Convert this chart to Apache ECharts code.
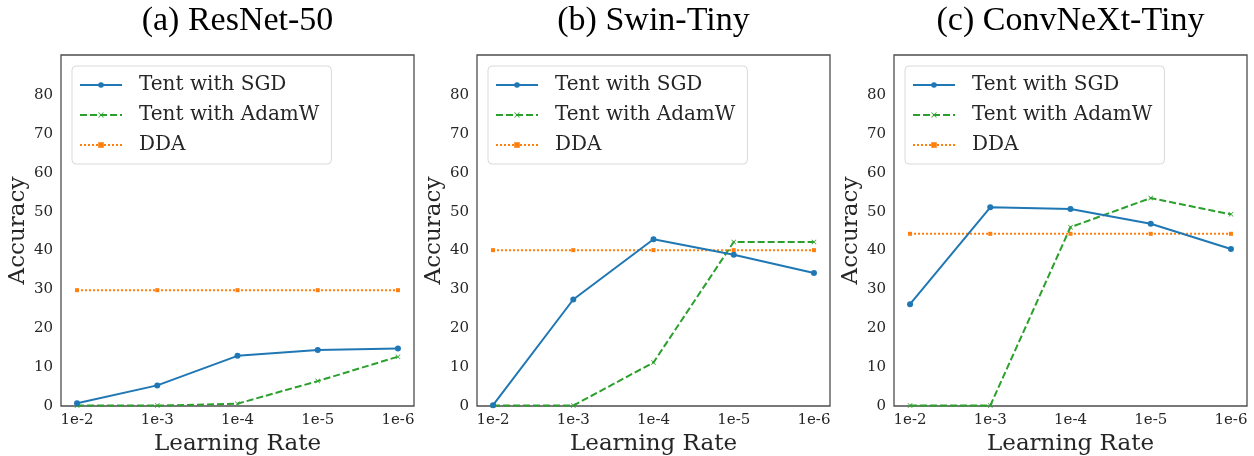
<!DOCTYPE html>
<html><head><meta charset="utf-8">
<script src="https://cdn.jsdelivr.net/npm/echarts@6/dist/echarts.min.js"></script>
<style>html,body{margin:0;padding:0;background:#fff}#c{width:1254px;height:456px}</style>
</head><body><div id="c"></div>
<script>
const titles = ['(a) ResNet-50', '(b) Swin-Tiny', '(c) ConvNeXt-Tiny'];
const tickLabels = ['1e-2', '1e-3', '1e-4', '1e-5', '1e-6'];
const yTicks = [0, 10, 20, 30, 40, 50, 60, 70, 80];
const seriesNames = ['Tent with SGD', 'Tent with AdamW', 'DDA'];
// ResNet-50
const resnetSGD = [0.7, 5.3, 12.9, 14.4, 14.8];
const resnetAdamW = [0.1, 0.1, 0.6, 6.4, 12.7];
const resnetDDA = [29.8, 29.8, 29.8, 29.8, 29.8];
// Swin-Tiny
const swinSGD = [0.2, 27.4, 42.9, 38.9, 34.2];
const swinAdamW = [0.1, 0.1, 11.2, 42.2, 42.2];
const swinDDA = [40.1, 40.1, 40.1, 40.1, 40.1];
// ConvNeXt-Tiny
const convSGD = [26.2, 51.1, 50.7, 46.9, 40.4];
const convAdamW = [0.1, 0.1, 46.0, 53.5, 49.3];
const convDDA = [44.3, 44.3, 44.3, 44.3, 44.3];

const panels = [
  [resnetSGD, resnetAdamW, resnetDDA],
  [swinSGD, swinAdamW, swinDDA],
  [convSGD, convAdamW, convDDA]
];

const gridLefts = [61, 477, 894];
const gridW = 353, gridTop = 55, gridH = 351;
const colors = ['#1f77b4', '#2ca02c', '#ff7f0e'];
const lineTypes = ['solid', [7, 3], [2, 2]];
const xSym = 'path://M1,0L5,4L9,0L10,1L6,5L10,9L9,10L5,6L1,10L0,9L4,5L0,1Z';
const symbols = ['circle', xSym, 'rect'];
const symSizes = [6, 5, 4];
const serifFont = '"DejaVu Serif", serif';
const textColor = '#262626';
const frameColor = '#4d4d4d';

const grid = [], xAxis = [], yAxis = [], series = [], legend = [], graphic = [];
panels.forEach((vals, p) => {
  grid.push({left: gridLefts[p], top: gridTop, width: gridW, height: gridH,
    outerBoundsMode: 'none', containLabel: false,
    show: true, borderColor: frameColor, borderWidth: 1.3, backgroundColor: '#fff'});
  xAxis.push({type: 'value', gridIndex: p, min: -0.2, max: 4.2,
    name: 'Learning Rate', nameLocation: 'middle', nameGap: 24,
    nameTextStyle: {fontFamily: serifFont, fontSize: 23, color: textColor},
    axisLine: {show: false}, axisTick: {show: false}, splitLine: {show: false},
    axisLabel: {customValues: [0, 1, 2, 3, 4], formatter: v => tickLabels[Math.round(v)],
      fontFamily: serifFont, fontSize: 15, color: textColor, margin: 7}});
  yAxis.push({type: 'value', gridIndex: p, min: 0, max: 90.3,
    name: 'Accuracy', nameLocation: 'middle', nameGap: 28, nameRotate: 90,
    nameTextStyle: {fontFamily: serifFont, fontSize: 23, color: textColor},
    axisLine: {show: false}, axisTick: {show: false}, splitLine: {show: false},
    axisLabel: {customValues: yTicks, fontFamily: serifFont, fontSize: 15, color: textColor, margin: 8}});
  vals.forEach((arr, s) => {
    series.push({type: 'line', name: seriesNames[s], xAxisIndex: p, yAxisIndex: p,
      data: arr.map((v, i) => [i, v]),
      symbol: symbols[s], symbolSize: symSizes[s], showSymbol: true,
      itemStyle: {color: colors[s]},
      lineStyle: {color: colors[s], width: 2, type: lineTypes[s]},
      animation: false, z: 3 - s});
  });
  legend.push({data: seriesNames, orient: 'vertical', left: gridLefts[p] + 11, top: 66,
    itemWidth: 42, itemHeight: 7, itemGap: 10,
    padding: [9, 12, 9, 7],
    borderColor: '#d9d9d9', borderWidth: 1, borderRadius: 4, backgroundColor: 'rgba(255,255,255,0.8)',
    textStyle: {fontFamily: serifFont, fontSize: 20, color: textColor, padding: [0, 0, 0, 12]},
    selectedMode: false});
  graphic.push({type: 'text', x: gridLefts[p] + gridW / 2, y: 21,
    style: {text: titles[p], font: '34px "Liberation Serif", "Times New Roman", serif',
      fill: '#000', textAlign: 'center', textVerticalAlign: 'middle'}});
});

const chart = echarts.init(document.getElementById('c'), null, {renderer: 'canvas'});
chart.setOption({animation: false, grid, xAxis, yAxis, series, legend, graphic});
</script></body></html>
